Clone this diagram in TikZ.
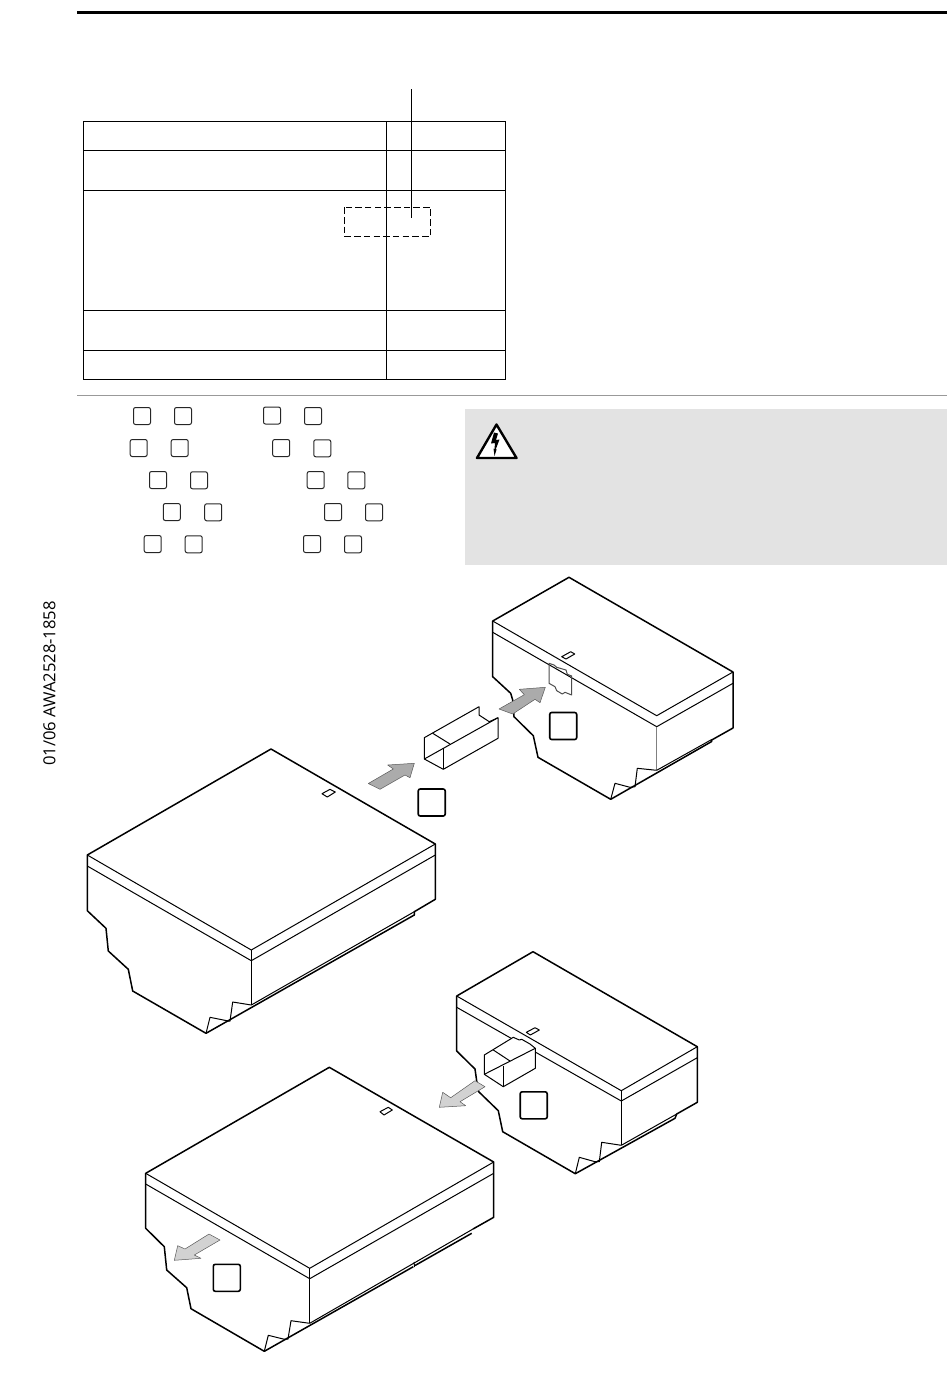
\documentclass[tikz,border=0pt]{standalone}
\usepackage{fontspec}
\setmainfont{Open Sans}
\usepackage{xcolor}
\definecolor{panelgrey}{HTML}{E3E3E3}
\definecolor{arrowdark}{HTML}{ABABAB}
\definecolor{arrowlight}{HTML}{D2D2D2}
\begin{document}
\begin{tikzpicture}[x=1pt,y=-1pt]
        \tikzset{rulegrid/.style = {line width=1.1pt}}
        \tikzset{edgeo/.style = {line width=1.5pt, line join=round}}
        \tikzset{edgei/.style = {line width=1pt, line join=round}}
        \tikzset{legendbox/.style = {shape=rectangle,draw=black!85,line width=1pt,rounded corners=2pt,minimum size=17pt,inner sep=0pt}}
        \tikzset{tagbox/.style = {shape=rectangle,draw,line width=1.6pt,rounded corners=2pt,minimum size=27pt,inner sep=0pt}}
        \tikzset{blockd/.style = {fill=arrowdark, draw=black!65, line width=0.5pt, line join=round}}
        \tikzset{blockl/.style = {fill=arrowlight, draw=black!65, line width=0.5pt, line join=round}}
        \useasboundingbox (0,0) rectangle (950,1387);
        % page rules
        \draw[line width=2.5pt] (77,12.3) -- (947,12.3);
        \draw[line width=1pt, draw=black!40] (77,395.5) -- (947,395.5);
        % table
        \draw[rulegrid] (83.3,121.3) rectangle (505.3,379.3);
        \draw[rulegrid] (83.3,150.3) -- (505.3,150.3);
        \draw[rulegrid] (83.3,190.3) -- (505.3,190.3);
        \draw[rulegrid] (83.3,310.3) -- (505.3,310.3);
        \draw[rulegrid] (83.3,350.3) -- (505.3,350.3);
        \draw[rulegrid] (386.3,121.3) -- (386.3,379.3);
        \draw[line width=1pt] (411.3,89) -- (411.3,218);
        \draw[line width=1pt, dash pattern=on 6.5pt off 3.2pt] (344.3,207.3) rectangle (430.7,236.3);
        % legend
        \node[legendbox] (l1a) at (142,416) {};
        \node[legendbox] (l1b) at (183,416) {};
        \node[legendbox] (l1c) at (272,415.5) {};
        \node[legendbox] (l1d) at (313,416) {};
        \node[legendbox] (l2a) at (138.7,448) {};
        \node[legendbox] (l2b) at (179.7,448) {};
        \node[legendbox] (l2c) at (281.2,448) {};
        \node[legendbox] (l2d) at (322.3,448.3) {};
        \node[legendbox] (l3a) at (158,480) {};
        \node[legendbox] (l3b) at (199,480.3) {};
        \node[legendbox] (l3c) at (315.7,480) {};
        \node[legendbox] (l3d) at (356.3,480.3) {};
        \node[legendbox] (l4a) at (171.8,512) {};
        \node[legendbox] (l4b) at (213.2,512.3) {};
        \node[legendbox] (l4c) at (333,512) {};
        \node[legendbox] (l4d) at (374,512.3) {};
        \node[legendbox] (l5a) at (152.7,544) {};
        \node[legendbox] (l5b) at (193.7,544.3) {};
        \node[legendbox] (l5c) at (312,544) {};
        \node[legendbox] (l5d) at (353,544.3) {};
        % warning panel
        \fill[panelgrey] (465,408.5) rectangle (947,565);
        \draw[line width=2.4pt, fill=white, line join=round] (496.5,424.5) -- (477,458) -- (516.5,458) -- cycle;
        \fill (494,432.5) -- (498,433.5) -- (496,440) -- (499.5,439.5) -- (495.7,449.5) -- (496.7,449.3) -- (494.5,456) -- (493.5,448.5) -- (494.5,449) -- (495,443) -- (491,443.5) -- cycle;
        % side text
        \node[rotate=90, font=\fontsize{16.6}{20}\selectfont, inner sep=0pt] (docid) at (49.5,683.5) {01/06 AWA2528-1858};

        % unit upper right
        \draw[edgeo] (569,577.3) -- (492.7,621) -- (492.7,676.7) -- (510.7,693.3) -- (512.7,700) -- (514,716.7) -- (533.3,735.7) -- (538,757.3) -- (610.7,799.3) -- (711.7,741.5) -- (711.7,740) -- (733,728) -- (733,672) -- cycle;
        \draw[edgei] (492.7,621) -- (656.7,715.7) -- (733,672);
        \draw[edgei] (492.7,632.3) -- (656.7,726.7) -- (733,683.3);
        \draw[line width=0.9pt, draw=black!50] (656.7,726.7) -- (656.7,770.3);
        \draw[edgei] (656.7,770.3) -- (711.7,739.5);
        \draw[edgei] (610.7,799.3) -- (615,783.3) -- (630,787.3) -- (635,786.7) -- (637.3,768.3) -- (656.7,770.3);
        \draw[edgei] (561.7,656.7) -- (570.7,651.7) -- (574.7,654) -- (566,659) -- cycle;
        \draw[line width=1pt, draw=black!70, line join=round] (549,663.3) -- (554,665) -- (556.7,667.3) -- (566,670) -- (567.3,674.3) -- (571.7,676) -- (571.7,695) -- (565,692.3) -- (562.3,694) -- (556.7,690.7) -- (555,686.7) -- (549,683.3) -- cycle;
        \node[tagbox] (tag1) at (563.2,726) {};
        \draw[blockd] (499,709) -- (524.3,694.7) -- (519.3,689.3) -- (545.3,687.3) -- (540,702.7) -- (535,699.3) -- (512.7,714) -- cycle;
        % duct
        \draw[edgei] (424.3,737.7) -- (424.3,759) -- (443.3,769.3) -- (498,738.3) -- (498,717.7) -- (489.3,721.7) -- (479,715) -- (479,706.7) -- cycle;
        \draw[edgei] (424.3,759) -- (498,717.7);
        \draw[edgei] (443.3,769.3) -- (443.3,748);
        \draw[edgei] (432.7,733.3) -- (450,744);
        \draw[blockd] (368.3,783.5) -- (393.3,769) -- (387.7,765) -- (414.3,763.3) -- (410,777.7) -- (405,775) -- (380,789.3) -- cycle;
        \node[tagbox] (tag2) at (431.7,802.5) {};

        % unit left
        \draw[edgeo] (271,749) -- (87.3,855) -- (87.3,910.7) -- (106,928.3) -- (108.3,951) -- (128.3,969.3) -- (132.7,991) -- (206,1033.3) -- (414.3,915) -- (414.3,911.7) -- (435.3,899.3) -- (435.3,844) -- cycle;
        \draw[edgei] (87.3,855) -- (251.3,950) -- (435.3,844);
        \draw[edgei] (87.3,866) -- (251.3,960.7) -- (435.3,855);
        \draw[edgei] (251.3,950) -- (251.3,1005);
        \draw[edgei] (251.3,1005) -- (414.3,911.7);
        \draw[edgei] (206,1033.3) -- (210,1017.3) -- (228.3,1021) -- (230,1021) -- (232.7,1002) -- (251.3,1005);
        \draw[edgei] (322,793.7) -- (330,789.3) -- (335.3,792) -- (327.3,797) -- cycle;

        % unit middle right
        \draw[edgeo] (533,951.7) -- (456.7,996) -- (456.7,1051) -- (475,1069) -- (476.7,1081) -- (478.7,1091.7) -- (498.3,1110.7) -- (502.7,1131.7) -- (575.3,1173.7) -- (675,1118.3) -- (676.7,1114) -- (697.3,1102.3) -- (697.3,1046.7) -- cycle;
        \draw[edgei] (456.7,996) -- (621.3,1090.7) -- (697.3,1046.7);
        \draw[edgei] (456.7,1007.3) -- (621.3,1101) -- (697.3,1057.7);
        \draw[edgei] (621.3,1090.7) -- (621.3,1145.3);
        \draw[edgei] (621.3,1145.3) -- (676.7,1114);
        \draw[edgei] (575.3,1173.7) -- (579.3,1157.3) -- (595,1161.7) -- (599.3,1161.7) -- (601.7,1142.3) -- (621.3,1145.3);
        \draw[edgei] (526.3,1032.3) -- (535,1027.7) -- (539.3,1030) -- (530.3,1035) -- cycle;
        % duct seated
        \draw[edgei, fill=white] (484.3,1055) -- (484.3,1074.3) -- (503.3,1086.7) -- (535.3,1068.3) -- (535.3,1048.3) -- (530,1044) -- (521.7,1039.3) -- (519.3,1040) -- (513.3,1037.3) -- cycle;
        \draw[edgei] (484.3,1074.3) -- (535.3,1048.3);
        \draw[edgei] (503.3,1086.7) -- (503.3,1065.7);
        \draw[edgei] (493.3,1050) -- (510,1061);
        \draw[blockl] (485,1086.7) -- (460,1101.7) -- (465.7,1105.7) -- (439.3,1107.3) -- (442.7,1092.3) -- (450.7,1097.7) -- (475,1080.7) -- cycle;
        \node[tagbox] (tag3) at (533.7,1105.3) {};

        % unit lower left
        \draw[edgeo] (473,1229) -- (493.7,1217.3) -- (493.7,1162) -- (329.3,1067.3) -- (145.7,1173.3) -- (145.7,1228.3) -- (164.3,1246.7) -- (166.7,1270) -- (186.7,1287.7) -- (191,1308.7) -- (264.3,1351.3) -- (413.3,1266.7);
        \draw[edgeo] (415,1265.5) -- (471.7,1233.3);
        \draw[edgei] (145.7,1173.3) -- (309.7,1268.3) -- (493.7,1162);
        \draw[edgei] (145.7,1184) -- (309.7,1278.7) -- (493.7,1173.3);
        \draw[edgei] (309.7,1268.3) -- (309.7,1323.3);
        \draw[edgei] (309.7,1323.3) -- (473,1229);
        \draw[edgei] (414,1262) -- (414.5,1267);
        \draw[edgei] (264.3,1351.3) -- (268.3,1335.3) -- (283.3,1339) -- (288,1339) -- (291,1320.7) -- (309.7,1323.3);
        \draw[edgei] (380,1111.7) -- (388.3,1107.3) -- (392.3,1110) -- (384,1115) -- cycle;
        \draw[blockl] (220,1240) -- (194.3,1255) -- (201,1258.3) -- (174.3,1260.3) -- (177.7,1245.7) -- (185,1249) -- (209,1234) -- cycle;
        \node[tagbox] (tag4) at (226.8,1277.8) {};
\end{tikzpicture}
\end{document}
